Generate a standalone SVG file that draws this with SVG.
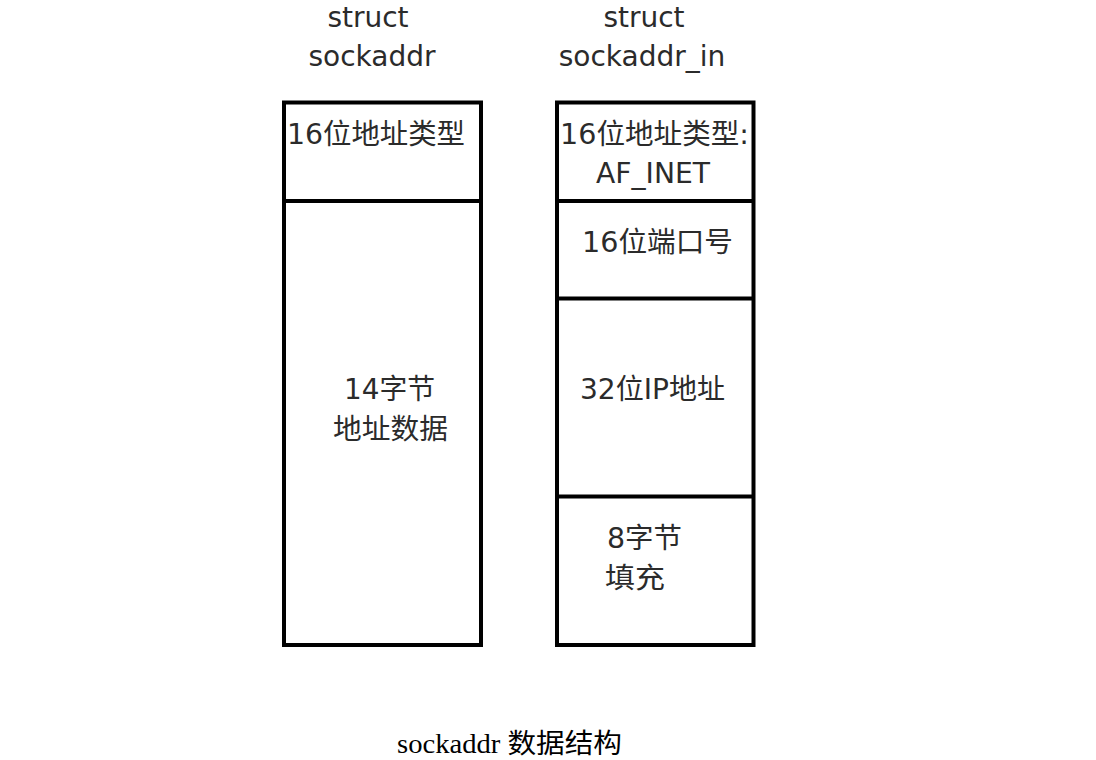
<svg xmlns="http://www.w3.org/2000/svg" width="1096" height="760" viewBox="0 0 1096 760">
<style>
.lbl{font-family:"DejaVu Sans","Noto Sans CJK SC",sans-serif;font-size:28px;fill:#2b2b2b}
.box{fill:#fff;stroke:#000;stroke-width:4}
.div{stroke:#000;stroke-width:4;fill:none}
.cap{font-family:"Liberation Serif","Noto Sans CJK SC",serif;font-size:27px;fill:#000}
</style>
<rect width="1096" height="760" fill="#fff"/>
<g id="title-sockaddr">
<text class="lbl" x="368" y="27" text-anchor="middle">struct</text>
<text class="lbl" x="372" y="66" text-anchor="middle">sockaddr</text>
</g>
<g id="title-sockaddr_in">
<text class="lbl" x="644" y="27" text-anchor="middle">struct</text>
<text class="lbl" x="642" y="66" text-anchor="middle">sockaddr_in</text>
</g>
<g id="sockaddr">
<rect class="box" x="284" y="102.5" width="197" height="542.5"/>
<line class="div" x1="284" y1="201" x2="481" y2="201"/>
<text class="lbl" x="287" y="144" textLength="178" lengthAdjust="spacingAndGlyphs">16位地址类型</text>
<text class="lbl" x="344" y="399" textLength="91" lengthAdjust="spacingAndGlyphs">14字节</text>
<text class="lbl" x="333" y="439" textLength="115" lengthAdjust="spacingAndGlyphs">地址数据</text>
</g>
<g id="sockaddr_in">
<rect class="box" x="557" y="102.5" width="196.5" height="542.5"/>
<line class="div" x1="557" y1="201" x2="753.5" y2="201"/>
<line class="div" x1="557" y1="298.5" x2="753.5" y2="298.5"/>
<line class="div" x1="557" y1="496.5" x2="753.5" y2="496.5"/>
<text class="lbl" x="560" y="144" textLength="189" lengthAdjust="spacingAndGlyphs">16位地址类型:</text>
<text class="lbl" x="596" y="183" textLength="114" lengthAdjust="spacingAndGlyphs">AF_INET</text>
<text class="lbl" x="582" y="252" textLength="151" lengthAdjust="spacingAndGlyphs">16位端口号</text>
<text class="lbl" x="580" y="399" textLength="145" lengthAdjust="spacingAndGlyphs">32位IP地址</text>
<text class="lbl" x="607" y="548" textLength="75" lengthAdjust="spacingAndGlyphs">8字节</text>
<text class="lbl" x="605" y="588" textLength="60" lengthAdjust="spacingAndGlyphs">填充</text>
</g>
<g id="connectors"></g>
<g id="caption">
<text class="cap" x="397" y="753" textLength="225" lengthAdjust="spacingAndGlyphs">sockaddr 数据结构</text>
</g>
</svg>
